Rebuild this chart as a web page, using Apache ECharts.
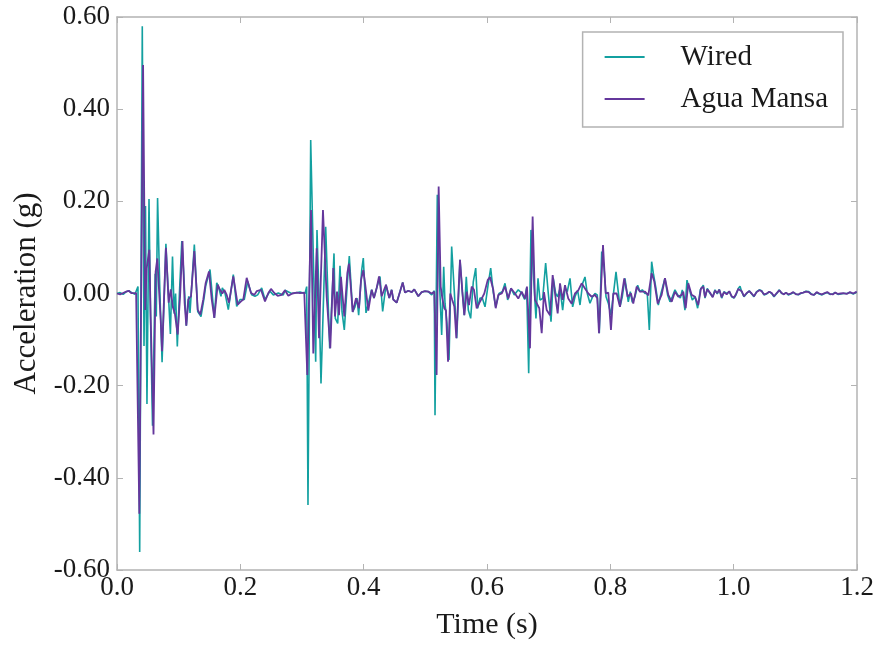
<!DOCTYPE html>
<html>
<head>
<meta charset="utf-8">
<script src="https://cdn.jsdelivr.net/npm/echarts@6/dist/echarts.min.js"></script>
<style>
html,body{margin:0;padding:0;background:#fff;}
#chart{width:879px;height:645px;}
</style>
</head>
<body>
<div id="chart"></div>
<script>
// Series names
const seriesNames = ['Wired', 'Agua Mansa'];

// Wired sensor: [time (s), acceleration (g)]
const wiredPoints = [[0.000,0.000],[0.005,0.002],[0.010,-0.002],[0.015,0.004],[0.019,0.006],[0.024,0.002],[0.029,-0.002],[0.034,0.015],[0.0368,-0.561],[0.041,0.580],[0.0438,-0.114],[0.0462,0.190],[0.0486,-0.240],[0.0519,0.205],[0.0543,-0.050],[0.0576,-0.287],[0.0619,0.043],[0.0637,-0.050],[0.0658,0.207],[0.0692,0.020],[0.0731,-0.149],[0.0793,0.108],[0.0827,0.016],[0.0866,-0.088],[0.0900,0.080],[0.0928,-0.044],[0.0950,0.000],[0.0978,-0.115],[0.1012,0.000],[0.1051,0.114],[0.1078,0.054],[0.1124,-0.070],[0.1163,-0.006],[0.1184,-0.042],[0.1254,0.106],[0.1309,-0.039],[0.1362,-0.050],[0.1416,-0.006],[0.1438,0.016],[0.1508,0.052],[0.1578,-0.053],[0.1617,0.023],[0.1643,0.016],[0.1686,-0.006],[0.1708,0.012],[0.1751,0.001],[0.1805,-0.035],[0.1886,0.041],[0.1941,-0.028],[0.1995,-0.013],[0.2064,-0.013],[0.2119,0.026],[0.2184,-0.003],[0.2238,-0.006],[0.2281,-0.003],[0.2346,0.012],[0.2400,-0.013],[0.2481,0.005],[0.2535,-0.003],[0.2616,0.001],[0.2697,-0.003],[0.2724,0.007],[0.2832,0.000],[0.2967,0.003],[0.3049,0.000],[0.3076,0.015],[0.3097,-0.459],[0.3141,0.333],[0.3222,-0.148],[0.3243,0.138],[0.3276,-0.007],[0.3308,-0.195],[0.3384,0.145],[0.3449,-0.119],[0.3519,0.087],[0.3540,-0.054],[0.3579,-0.065],[0.3616,0.060],[0.3649,-0.040],[0.3686,-0.079],[0.3735,0.022],[0.3767,0.081],[0.3822,-0.040],[0.3859,-0.029],[0.3892,-0.010],[0.3919,-0.047],[0.3968,0.051],[0.3994,0.077],[0.4038,-0.042],[0.4130,0.008],[0.4167,-0.010],[0.4211,0.012],[0.4265,0.037],[0.4308,-0.039],[0.4362,0.019],[0.4415,-0.010],[0.4454,0.008],[0.4480,-0.013],[0.4535,-0.020],[0.4589,0.004],[0.4633,0.024],[0.4670,0.002],[0.4724,0.006],[0.4779,0.003],[0.4821,0.009],[0.4886,-0.006],[0.4941,0.003],[0.4994,0.005],[0.5048,0.004],[0.5103,-0.003],[0.5145,0.006],[0.5157,-0.264],[0.5194,0.214],[0.5233,0.012],[0.5265,-0.090],[0.5298,0.058],[0.5319,-0.021],[0.5351,-0.065],[0.5384,-0.144],[0.5427,0.102],[0.5470,0.004],[0.5509,-0.097],[0.5562,0.073],[0.5600,0.004],[0.5632,-0.047],[0.5664,0.036],[0.5697,-0.036],[0.5735,-0.054],[0.5778,0.026],[0.5817,0.055],[0.5849,-0.032],[0.5886,-0.010],[0.5924,-0.010],[0.5968,-0.029],[0.6021,0.022],[0.6060,0.055],[0.6102,0.002],[0.6141,-0.029],[0.6195,0.000],[0.6248,0.004],[0.6292,0.022],[0.6335,-0.014],[0.6389,0.011],[0.6442,-0.003],[0.6507,0.008],[0.6562,0.001],[0.6611,-0.013],[0.6643,0.012],[0.6676,-0.173],[0.6713,0.138],[0.6750,0.047],[0.6794,-0.054],[0.6827,0.033],[0.6859,-0.014],[0.6903,-0.011],[0.6951,0.066],[0.6994,0.000],[0.7038,-0.061],[0.7075,0.033],[0.7114,0.000],[0.7146,-0.007],[0.7184,0.011],[0.7227,-0.036],[0.7265,0.011],[0.7302,0.004],[0.7346,0.033],[0.7389,-0.029],[0.7427,-0.007],[0.7470,0.007],[0.7508,-0.025],[0.7551,0.022],[0.7589,0.036],[0.7626,0.000],[0.7670,-0.021],[0.7713,-0.007],[0.7751,0.000],[0.7788,-0.003],[0.7821,-0.086],[0.7860,0.091],[0.7897,0.058],[0.7930,-0.007],[0.7967,-0.021],[0.8010,-0.047],[0.8092,0.047],[0.8156,-0.029],[0.8194,-0.007],[0.8237,0.033],[0.8291,-0.018],[0.8324,0.004],[0.8356,-0.019],[0.8400,-0.007],[0.8443,0.018],[0.8481,0.004],[0.8518,0.008],[0.8562,0.000],[0.8599,0.000],[0.8632,-0.079],[0.8670,0.069],[0.8697,0.044],[0.8735,0.015],[0.8778,-0.025],[0.8821,0.000],[0.8886,0.033],[0.8930,-0.004],[0.8967,-0.018],[0.9005,-0.007],[0.9048,0.008],[0.9092,-0.003],[0.9135,-0.010],[0.9167,0.008],[0.9210,-0.036],[0.9243,0.029],[0.9291,0.004],[0.9329,-0.014],[0.9373,-0.007],[0.9416,-0.032],[0.9459,0.008],[0.9508,0.018],[0.9535,-0.010],[0.9572,0.011],[0.9616,0.000],[0.9660,-0.007],[0.9697,0.008],[0.9734,-0.001],[0.9767,0.009],[0.9806,-0.010],[0.9843,0.004],[0.9887,0.000],[0.9929,0.004],[0.9968,-0.007],[1.0006,-0.010],[1.0038,-0.003],[1.0075,0.011],[1.0103,0.016],[1.0130,0.004],[1.0167,-0.007],[1.0211,0.000],[1.0253,0.006],[1.0292,-0.001],[1.0329,-0.007],[1.0373,0.004],[1.0416,0.008],[1.0454,0.006],[1.0492,-0.003],[1.0535,-0.001],[1.0578,0.004],[1.0617,0.000],[1.0654,-0.007],[1.0698,0.000],[1.0740,0.008],[1.0779,0.000],[1.0816,-0.001],[1.0849,0.002],[1.0886,-0.003],[1.0925,-0.001],[1.0967,0.002],[1.1011,-0.001],[1.1048,-0.003],[1.1087,0.000],[1.1129,0.002],[1.1173,0.005],[1.1217,0.004],[1.1259,-0.001],[1.1303,-0.003],[1.1346,0.002],[1.1389,-0.001],[1.1432,-0.003],[1.1476,0.000],[1.1518,0.002],[1.1562,-0.002],[1.1606,-0.001],[1.1648,0.002],[1.1692,-0.002],[1.1735,-0.001],[1.1778,0.000],[1.1833,0.000],[1.1886,0.002],[1.1940,-0.001],[1.1995,0.003]];

// Agua Mansa sensor: [time (s), acceleration (g)]
const aguaPoints = [[0.000,0.000],[0.005,-0.002],[0.010,0.001],[0.015,0.004],[0.019,0.006],[0.023,0.001],[0.026,-0.002],[0.031,0.001],[0.0334,0.000],[0.0362,-0.478],[0.0423,0.496],[0.0457,-0.036],[0.0480,0.054],[0.0524,0.095],[0.0546,-0.051],[0.0592,-0.306],[0.0626,0.047],[0.0654,0.076],[0.0681,0.009],[0.0709,-0.059],[0.0731,-0.125],[0.0793,0.099],[0.0838,-0.020],[0.0872,0.009],[0.0905,-0.029],[0.0939,-0.044],[0.0984,-0.089],[0.1023,-0.006],[0.1062,0.114],[0.1096,-0.020],[0.1124,-0.070],[0.1156,-0.013],[0.1200,-0.006],[0.1254,0.092],[0.1309,-0.035],[0.1351,-0.046],[0.1399,-0.013],[0.1438,0.023],[0.1492,0.048],[0.1536,-0.013],[0.1578,-0.053],[0.1633,0.019],[0.1670,0.008],[0.1708,0.000],[0.1740,0.008],[0.1779,-0.003],[0.1816,-0.020],[0.1886,0.037],[0.1957,-0.024],[0.2011,-0.017],[0.2048,-0.013],[0.2103,0.034],[0.2173,0.001],[0.2227,-0.003],[0.2265,0.005],[0.2335,0.008],[0.2400,-0.017],[0.2454,0.001],[0.2497,0.010],[0.2551,0.001],[0.2606,-0.005],[0.2671,-0.003],[0.2724,0.007],[0.2778,-0.005],[0.2843,0.000],[0.2914,0.002],[0.2967,0.001],[0.3037,0.002],[0.3086,-0.177],[0.3146,0.181],[0.3183,-0.130],[0.3238,0.098],[0.3276,-0.097],[0.3340,0.181],[0.3400,-0.007],[0.3459,-0.119],[0.3508,0.055],[0.3535,-0.050],[0.3568,0.004],[0.3600,-0.047],[0.3632,0.036],[0.3686,-0.050],[0.3735,0.044],[0.3762,0.065],[0.3822,-0.040],[0.3876,-0.010],[0.3924,-0.032],[0.3957,0.029],[0.3994,0.051],[0.4022,0.023],[0.4075,-0.037],[0.4130,0.008],[0.4167,-0.010],[0.4211,0.012],[0.4249,0.037],[0.4292,-0.006],[0.4362,0.019],[0.4415,-0.010],[0.4454,0.008],[0.4480,-0.013],[0.4535,-0.020],[0.4589,0.004],[0.4633,0.024],[0.4670,0.002],[0.4724,0.006],[0.4779,0.003],[0.4821,0.009],[0.4886,-0.006],[0.4941,0.003],[0.4994,0.005],[0.5048,0.004],[0.5103,0.000],[0.5145,0.004],[0.5183,-0.177],[0.5216,0.232],[0.5249,0.015],[0.5275,-0.010],[0.5308,-0.032],[0.5335,-0.037],[0.5368,-0.148],[0.5405,0.000],[0.5437,-0.014],[0.5470,-0.028],[0.5503,-0.097],[0.5562,0.073],[0.5600,0.004],[0.5632,-0.047],[0.5671,0.004],[0.5708,-0.025],[0.5752,0.015],[0.5789,0.008],[0.5833,-0.032],[0.5870,-0.022],[0.5914,-0.011],[0.5956,0.000],[0.6011,0.029],[0.6049,0.036],[0.6102,0.008],[0.6141,-0.032],[0.6183,-0.003],[0.6238,0.000],[0.6292,0.015],[0.6345,-0.011],[0.6389,0.011],[0.6454,0.000],[0.6507,-0.011],[0.6562,0.004],[0.6616,-0.011],[0.6648,0.015],[0.6697,-0.119],[0.6740,0.167],[0.6778,-0.014],[0.6805,-0.018],[0.6848,-0.032],[0.6887,-0.086],[0.6924,0.003],[0.6968,-0.036],[0.7022,-0.047],[0.7065,0.040],[0.7103,0.000],[0.7146,-0.043],[0.7184,0.022],[0.7227,-0.014],[0.7265,0.018],[0.7318,-0.011],[0.7373,-0.022],[0.7427,0.000],[0.7480,0.007],[0.7535,0.022],[0.7589,0.011],[0.7643,0.000],[0.7698,-0.007],[0.7751,-0.003],[0.7788,-0.010],[0.7816,-0.086],[0.7881,0.105],[0.7925,0.000],[0.7967,0.002],[0.8010,-0.079],[0.8048,0.000],[0.8103,0.000],[0.8156,-0.029],[0.8226,0.033],[0.8281,-0.007],[0.8335,0.000],[0.8372,-0.022],[0.8427,0.015],[0.8481,0.004],[0.8562,0.004],[0.8616,-0.004],[0.8670,0.044],[0.8713,0.026],[0.8768,-0.022],[0.8832,-0.003],[0.8886,0.033],[0.8940,-0.003],[0.8995,-0.018],[0.9048,0.004],[0.9102,-0.007],[0.9157,-0.003],[0.9183,0.004],[0.9222,-0.032],[0.9264,0.022],[0.9319,-0.003],[0.9373,-0.007],[0.9426,-0.025],[0.9470,0.011],[0.9508,0.015],[0.9535,-0.008],[0.9572,0.009],[0.9616,0.002],[0.9660,-0.008],[0.9697,0.006],[0.9734,0.001],[0.9767,0.008],[0.9806,-0.008],[0.9843,0.003],[0.9887,-0.002],[0.9929,0.005],[0.9968,-0.006],[1.0006,-0.009],[1.0038,-0.001],[1.0075,0.010],[1.0103,0.014],[1.0130,0.005],[1.0167,-0.006],[1.0211,0.001],[1.0253,0.005],[1.0292,0.000],[1.0329,-0.006],[1.0373,0.003],[1.0416,0.007],[1.0454,0.005],[1.0492,-0.002],[1.0535,0.000],[1.0578,0.004],[1.0617,0.001],[1.0654,-0.006],[1.0698,0.001],[1.0740,0.007],[1.0779,0.001],[1.0816,-0.002],[1.0849,0.002],[1.0886,-0.002],[1.0925,0.000],[1.0967,0.003],[1.1011,-0.002],[1.1048,-0.002],[1.1087,0.001],[1.1129,0.002],[1.1173,0.004],[1.1217,0.003],[1.1259,-0.002],[1.1303,-0.003],[1.1346,0.003],[1.1389,0.000],[1.1432,-0.002],[1.1476,0.001],[1.1518,0.003],[1.1562,-0.001],[1.1606,-0.002],[1.1648,0.002],[1.1692,-0.001],[1.1735,0.000],[1.1778,0.001],[1.1833,-0.001],[1.1886,0.003],[1.1940,0.000],[1.1995,0.004]];

// Axis ranges
const xRange = [0, 1.2, 0.2];
const yRange = [-0.6, 0.6, 0.2];

const FONT = "'Liberation Serif', 'DejaVu Serif', serif";
const TEXT = '#1a1a1a';
const FRAME = '#b3b3b3';
const colors = ['#13a0a0', '#64379c'];

const chart = echarts.init(document.getElementById('chart'), null, {renderer: 'canvas'});

function frameAxis(extra) {
  return Object.assign({
    type: 'value',
    axisLine: {show: true, onZero: false, lineStyle: {color: FRAME, width: 1.5}},
    axisTick: {show: true, inside: true, length: 6, lineStyle: {color: FRAME, width: 1}},
    splitLine: {show: false}
  }, extra);
}

const option = {
  animation: false,
  backgroundColor: '#ffffff',
  textStyle: {fontFamily: FONT},
  grid: {left: 117, right: 22, top: 17, bottom: 75, containLabel: false},
  legend: {
    orient: 'vertical',
    right: 36,
    top: 32,
    padding: [10, 15, 13, 22],
    itemGap: 12,
    itemWidth: 40,
    itemHeight: 2,
    borderColor: FRAME,
    borderWidth: 1.5,
    backgroundColor: '#ffffff',
    textStyle: {fontFamily: FONT, fontSize: 29, color: TEXT, lineHeight: 30, padding: [0, 0, 0, 31]},
    data: seriesNames.map(n => ({name: n, icon: 'rect'}))
  },
  xAxis: [
    frameAxis({
      position: 'bottom',
      min: xRange[0], max: xRange[1], interval: xRange[2],
      name: 'Time (s)', nameLocation: 'middle', nameGap: 40,
      nameTextStyle: {fontFamily: FONT, fontSize: 30, color: TEXT},
      axisLabel: {fontFamily: FONT, fontSize: 27, color: TEXT, margin: 4, formatter: v => v.toFixed(1)}
    }),
    frameAxis({
      position: 'top',
      min: xRange[0], max: xRange[1], interval: xRange[2],
      axisLabel: {show: false}
    })
  ],
  yAxis: [
    frameAxis({
      position: 'left',
      min: yRange[0], max: yRange[1], interval: yRange[2],
      name: 'Acceleration (g)', nameLocation: 'middle', nameGap: 71,
      nameTextStyle: {fontFamily: FONT, fontSize: 31, color: TEXT},
      axisLabel: {fontFamily: FONT, fontSize: 27, color: TEXT, margin: 7, formatter: v => v.toFixed(2)}
    }),
    frameAxis({
      position: 'right',
      min: yRange[0], max: yRange[1], interval: yRange[2],
      axisLabel: {show: false}
    })
  ],
  series: [
    {
      name: seriesNames[0], type: 'line', xAxisIndex: 0, yAxisIndex: 0,
      data: wiredPoints, symbol: 'none', showSymbol: false,
      lineStyle: {color: colors[0], width: 1.6}, itemStyle: {color: colors[0]},
      z: 2
    },
    {
      name: seriesNames[1], type: 'line', xAxisIndex: 0, yAxisIndex: 0,
      data: aguaPoints, symbol: 'none', showSymbol: false,
      lineStyle: {color: colors[1], width: 1.8}, itemStyle: {color: colors[1]},
      z: 3
    }
  ]
};
chart.setOption(option);
</script>
</body>
</html>
